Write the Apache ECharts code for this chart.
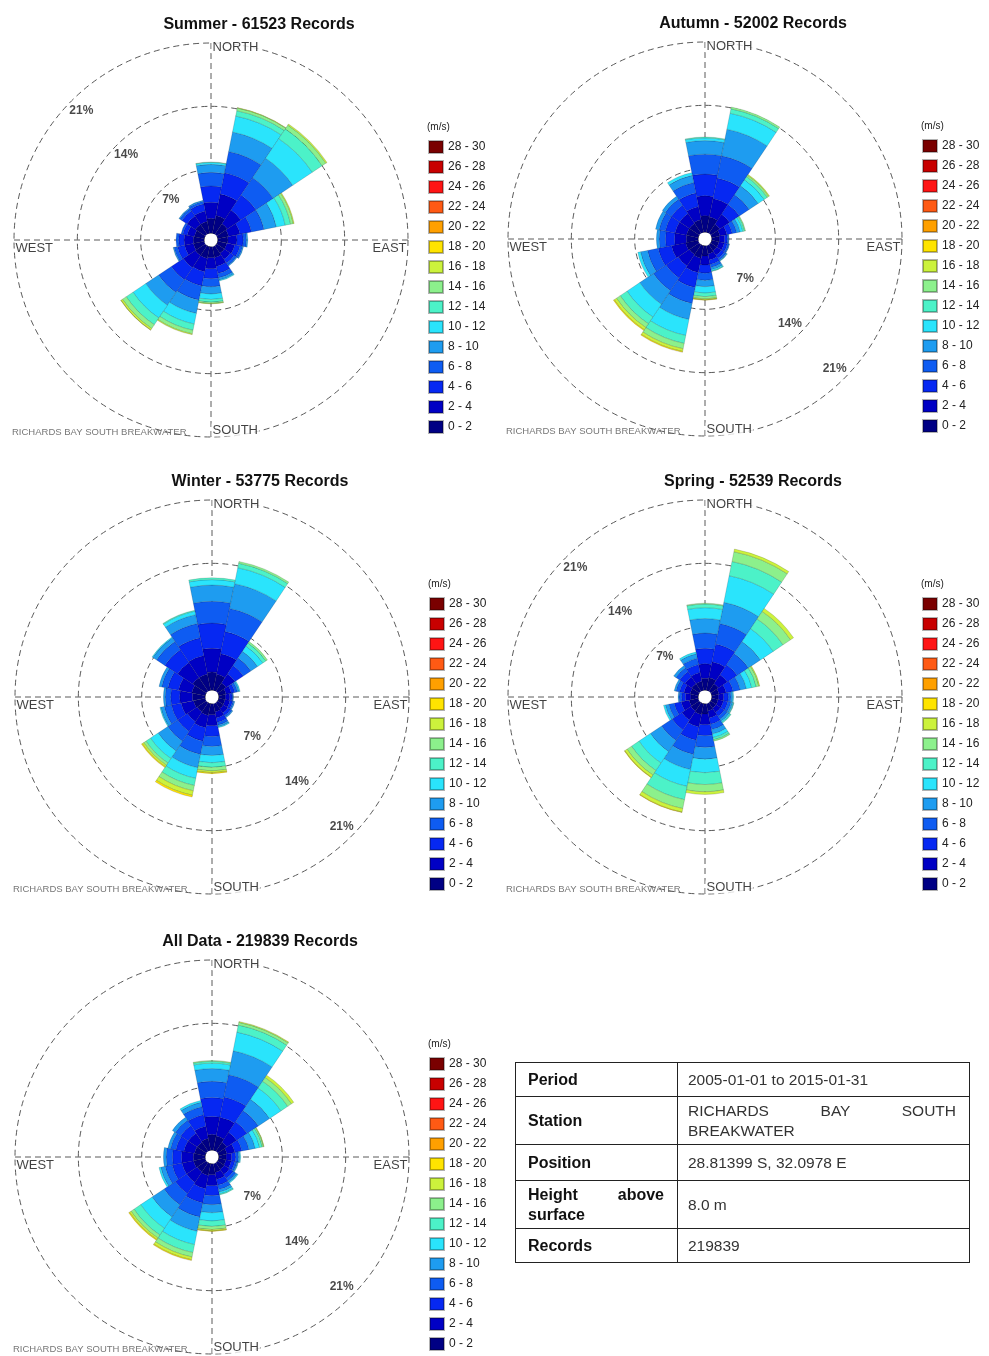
<!DOCTYPE html>
<html>
<head>
<meta charset="utf-8">
<title>Richards Bay South Breakwater - wind roses</title>
<script src="https://cdn.jsdelivr.net/npm/echarts@6/dist/echarts.min.js"></script>
<style>
  html, body { margin: 0; padding: 0; background: #fff; }
  #wrap { position: relative; width: 989px; height: 1356px; }
  #chart { position: absolute; left: 0; top: 0; width: 989px; height: 1356px; }
  #info { position: absolute; left: 515px; top: 1062px; width: 455px; border-collapse: collapse;
          font-family: "Liberation Sans", Arial, sans-serif; }
  #info td { border: 1.5px solid #222; padding: 0; vertical-align: middle; }
  #info td.k { width: 136px; padding: 0 13px 0 12px; font-weight: bold; font-size: 16px; color: #111;
               text-align: justify; line-height: 20px; }
  #info td.v { padding: 0 13px 0 10px; font-size: 15.5px; color: #333; text-align: justify; line-height: 20px; }
</style>
</head>
<body>
<div id="wrap">
  <div id="chart"></div>
  <table id="info">
    <tr style="height:34px"><td class="k">Period</td><td class="v">2005-01-01 to 2015-01-31</td></tr>
    <tr style="height:48px"><td class="k">Station</td><td class="v">RICHARDS BAY SOUTH BREAKWATER</td></tr>
    <tr style="height:36px"><td class="k">Position</td><td class="v">28.81399 S, 32.0978 E</td></tr>
    <tr style="height:48px"><td class="k">Height above surface</td><td class="v">8.0 m</td></tr>
    <tr style="height:34px"><td class="k">Records</td><td class="v">219839</td></tr>
  </table>
</div>
<script>
// 16 compass sectors, clockwise from north
var directions = ['N','NNE','NE','ENE','E','ESE','SE','SSE','S','SSW','SW','WSW','W','WNW','NW','NNW'];
// wind speed classes (m/s)
var speedBins = ['0 - 2','2 - 4','4 - 6','6 - 8','8 - 10','10 - 12','12 - 14','14 - 16',
                 '16 - 18','18 - 20','20 - 22','22 - 24','24 - 26','26 - 28','28 - 30'];
var binColors = ['#000084','#0000c4','#0628f2','#0e5cf2','#1e9cf0','#2ae4fc','#4cf2c8','#8cf08c',
                 '#ccf23c','#ffe400','#ffa000','#ff5a14','#ff1414','#c80000','#7a0000'];
var ringValues = [7, 14, 21];
var ringLabels = ['7%', '14%', '21%'];
var compassLabels = ['NORTH', 'EAST', 'SOUTH', 'WEST'];

// % frequency, one row per speed class (0-2 ... 18-20), one column per direction
var summer = [
  [1.6,2.0,1.4,1.2,1.1,1.0,1.0,1.2,1.2,1.3,1.3,1.2,1.2,1.1,1.3,1.3],
  [1.8,2.4,1.8,1.3,1.0,0.9,0.8,1.0,1.2,1.5,1.6,1.0,1.0,0.8,1.1,1.2],
  [1.8,2.4,2.0,1.3,0.7,0.6,0.5,0.8,1.1,1.6,1.6,0.8,0.6,0.5,0.7,0.8],
  [1.5,2.4,2.3,1.4,0.35,0.3,0.3,0.5,0.9,1.6,1.7,0.4,0.3,0.2,0.3,0.3],
  [0.9,2.2,2.6,1.4,0.15,0.1,0.1,0.25,0.8,1.5,1.7,0.1,0,0,0.1,0.1],
  [0.2,1.8,2.6,1.0,0,0,0,0.1,0.6,1.2,1.7,0,0,0,0,0],
  [0.05,0.6,1.3,0.6,0,0,0,0,0.3,0.7,0.9,0,0,0,0,0],
  [0,0.3,0.5,0.3,0,0,0,0,0.15,0.4,0.5,0,0,0,0,0],
  [0,0.05,0.15,0.1,0,0,0,0,0.05,0.1,0.2,0,0,0,0,0],
  [0,0,0,0,0,0,0,0,0,0,0.03,0,0,0,0,0]
];
var autumn = [
  [1.8,1.7,1.2,0.9,0.8,0.8,0.8,0.9,1.1,1.4,1.3,1.4,1.3,1.3,1.3,1.4],
  [2.2,2.1,1.3,0.8,0.6,0.6,0.6,0.7,1.0,1.6,1.5,1.6,1.3,1.3,1.3,1.5],
  [2.4,2.3,1.3,0.6,0.3,0.35,0.4,0.5,0.9,1.7,1.6,1.5,1.0,1.1,1.1,1.5],
  [2.2,2.5,1.3,0.5,0.15,0.2,0.25,0.35,0.8,1.8,1.7,1.2,0.7,0.7,0.8,1.2],
  [1.5,3.0,1.2,0.4,0.05,0.05,0.1,0.25,0.7,1.8,1.8,0.8,0.3,0.4,0.4,0.8],
  [0.3,1.8,0.8,0.3,0,0,0.05,0.15,0.7,1.8,1.7,0.3,0,0,0,0.3],
  [0.1,0.5,0.4,0.2,0,0,0,0.05,0.4,0.9,0.9,0,0,0,0,0],
  [0,0.2,0.2,0.1,0,0,0,0,0.25,0.6,0.5,0,0,0,0,0],
  [0,0,0.1,0,0,0,0,0,0.1,0.3,0.3,0,0,0,0,0],
  [0,0,0,0,0,0,0,0,0.05,0.1,0.1,0,0,0,0,0]
];
var winter = [
  [2.0,1.8,1.1,0.8,0.7,0.7,0.75,0.9,1.2,1.3,1.2,1.3,1.4,1.5,1.8,1.8],
  [2.6,2.3,1.2,0.6,0.5,0.55,0.6,0.7,1.2,1.4,1.3,1.4,1.4,1.5,2.0,2.1],
  [2.8,2.5,1.1,0.4,0.25,0.3,0.35,0.5,1.2,1.5,1.3,1.1,1.0,1.2,1.7,2.0],
  [2.4,2.6,1.0,0.3,0.1,0.15,0.2,0.3,1.1,1.5,1.3,0.8,0.6,0.7,1.1,1.6],
  [1.8,2.8,0.9,0.2,0.05,0.1,0.1,0.2,1.0,1.5,1.3,0.4,0.2,0.3,0.5,1.0],
  [0.6,1.8,0.7,0.1,0,0,0,0.1,0.8,1.2,1.0,0.1,0,0,0.1,0.4],
  [0.2,0.5,0.4,0,0,0,0,0,0.5,0.8,0.6,0,0,0,0,0.1],
  [0,0.2,0.2,0,0,0,0,0,0.4,0.6,0.3,0,0,0,0,0],
  [0,0,0,0,0,0,0,0,0.2,0.5,0.2,0,0,0,0,0],
  [0,0,0,0,0,0,0,0,0.1,0.2,0.1,0,0,0,0,0]
];
var spring = [
  [1.3,1.4,1.0,0.8,0.7,0.7,0.7,0.8,1.1,1.2,1.1,1.0,0.8,0.9,1.0,1.0],
  [1.6,1.8,1.2,0.8,0.6,0.6,0.6,0.8,1.2,1.4,1.2,0.9,0.6,0.7,0.9,1.0],
  [1.7,2.0,1.3,0.8,0.5,0.5,0.5,0.7,1.2,1.5,1.3,0.8,0.4,0.5,0.7,0.9],
  [1.7,2.3,1.5,0.8,0.3,0.35,0.4,0.6,1.3,1.6,1.4,0.6,0.3,0.4,0.5,0.7],
  [1.6,2.4,1.6,0.7,0.2,0.2,0.25,0.5,1.3,1.7,1.5,0.4,0.1,0.2,0.3,0.5],
  [1.2,3.0,1.7,0.6,0.1,0.1,0.15,0.4,1.5,1.9,1.5,0.2,0,0,0,0.2],
  [0.4,1.6,1.3,0.5,0,0.05,0.1,0.25,1.3,1.5,1.0,0,0,0,0,0],
  [0.1,1.1,1.0,0.3,0,0,0,0.15,0.8,1.0,0.6,0,0,0,0,0],
  [0,0.3,0.4,0.1,0,0,0,0,0.3,0.4,0.3,0,0,0,0,0],
  [0,0,0,0,0,0,0,0,0,0.05,0.05,0,0,0,0,0]
];
var allData = [
  [1.7,1.6,1.2,0.9,0.8,0.8,0.85,0.95,1.2,1.3,1.2,1.3,1.3,1.2,1.2,1.3],
  [2.0,2.1,1.3,0.9,0.6,0.6,0.7,0.8,1.2,1.5,1.4,1.3,1.3,1.2,1.2,1.4],
  [2.1,2.3,1.4,0.8,0.45,0.4,0.5,0.65,1.1,1.6,1.5,1.1,1.0,0.9,1.0,1.3],
  [1.8,2.5,1.5,0.8,0.3,0.25,0.35,0.5,1.0,1.6,1.5,0.8,0.7,0.6,0.7,0.9],
  [1.4,2.7,1.5,0.7,0.15,0.1,0.2,0.3,0.9,1.6,1.6,0.5,0.3,0.3,0.4,0.5],
  [0.6,2.1,1.5,0.5,0.1,0.05,0.1,0.2,0.9,1.5,1.5,0.2,0,0,0,0.2],
  [0.2,0.8,0.9,0.3,0,0,0,0.1,0.6,0.9,0.9,0,0,0,0,0],
  [0.1,0.3,0.5,0.15,0,0,0,0,0.35,0.5,0.4,0,0,0,0,0],
  [0,0.1,0.3,0.05,0,0,0,0,0.15,0.3,0.2,0,0,0,0,0],
  [0,0,0,0,0,0,0,0,0.05,0.1,0.1,0,0,0,0,0]
];

var panels = [
  { title: 'Summer - 61523 Records',    data: summer,  center: [211, 240],  pctAngle: 315 },
  { title: 'Autumn - 52002 Records',    data: autumn,  center: [705, 239],  pctAngle: 135 },
  { title: 'Winter - 53775 Records',    data: winter,  center: [212, 697],  pctAngle: 135 },
  { title: 'Spring - 52539 Records',    data: spring,  center: [705, 697],  pctAngle: 315 },
  { title: 'All Data - 219839 Records', data: allData, center: [212, 1157], pctAngle: 135 }
];

var FONT = '"Liberation Sans", Arial, sans-serif';
var dash = { color: '#5a5a5a', width: 1, type: [6, 4] };
var hide = { show: false };

var polar = [], angleAxis = [], radiusAxis = [], series = [], legend = [], graphic = [];

panels.forEach(function (p, k) {
  var cx = p.center[0], cy = p.center[1];
  var gi = k * 2, bi = k * 2 + 1;

  // grid polar: rings and the N-S / E-W lines
  polar.push({ center: [cx, cy], radius: [7, 197] });
  angleAxis.push({ polarIndex: gi, type: 'value', min: 0, max: 360, interval: 90, startAngle: 90, clockwise: true,
    axisLine: hide, axisTick: hide, axisLabel: hide, splitLine: { show: true, lineStyle: dash } });
  radiusAxis.push({ polarIndex: gi, type: 'value', min: 0, max: 21, interval: 7,
    axisLine: hide, axisTick: hide, axisLabel: hide, splitLine: { show: true, lineStyle: dash } });

  // bar polar: one sector per direction, N centred at the top
  polar.push({ center: [cx, cy], radius: [7, 197] });
  angleAxis.push({ polarIndex: bi, type: 'category', data: directions, startAngle: 90 + 360 / 32, clockwise: true,
    axisLine: hide, axisTick: hide, axisLabel: hide, splitLine: hide });
  radiusAxis.push({ polarIndex: bi, type: 'value', min: 0, max: 21,
    axisLine: hide, axisTick: hide, axisLabel: hide, splitLine: hide });

  speedBins.forEach(function (name, b) {
    var row = p.data[b] || [];
    series.push({
      type: 'bar', name: name, coordinateSystem: 'polar', polarIndex: bi, stack: 'rose' + k,
      barCategoryGap: '0%', silent: true,
      itemStyle: { color: binColors[b], borderColor: 'rgba(0,0,0,0.3)', borderWidth: 0.5 },
      data: directions.map(function (d, i) { return row[i] ? row[i] : '-'; })
    });
  });

  // compass labels
  series.push({
    type: 'scatter', coordinateSystem: 'polar', polarIndex: gi, symbolSize: 1, silent: true, z: 6,
    itemStyle: { color: 'rgba(0,0,0,0)' },
    label: { show: true, color: '#111', fontFamily: FONT, fontSize: 13, backgroundColor: '#fff', padding: [0, 1] },
    data: [
      { value: [21, 0],   label: { formatter: compassLabels[0], position: 'right', distance: 0, offset: [0, 4] } },
      { value: [21, 90],  label: { formatter: compassLabels[1], position: 'left',  distance: 0, offset: [0, 8], backgroundColor: 'transparent' } },
      { value: [21, 180], label: { formatter: compassLabels[2], position: 'right', distance: 0, offset: [0, -7] } },
      { value: [21, 270], label: { formatter: compassLabels[3], position: 'right', distance: 0, offset: [0, 8], backgroundColor: 'transparent' } }
    ]
  });

  // ring percentage labels
  series.push({
    type: 'scatter', coordinateSystem: 'polar', polarIndex: gi, symbolSize: 1, silent: true, z: 6,
    itemStyle: { color: 'rgba(0,0,0,0)' },
    label: { show: true, position: 'inside', color: '#1a1a1a', fontFamily: FONT, fontSize: 12, fontWeight: 'bold' },
    data: ringValues.map(function (v, i) {
      return { value: [v - 1.5, p.pctAngle], label: { formatter: ringLabels[i] } };
    })
  });

  legend.push({
    data: speedBins.slice().reverse(), orient: 'vertical', left: cx + 217, top: cy - 100, height: 320, padding: 0,
    itemWidth: 14, itemHeight: 12, itemGap: 6, icon: 'rect', selectedMode: false,
    textStyle: { fontFamily: FONT, fontSize: 12, color: '#222' }
  });

  graphic.push({ type: 'text', x: cx + 48, y: cy - 215, silent: true,
    style: { text: p.title, font: 'bold 16px ' + FONT, fill: '#111',
             align: 'center', verticalAlign: 'middle', textAlign: 'center', textVerticalAlign: 'middle' } });
  graphic.push({ type: 'text', x: cx + 216, y: cy - 113, silent: true,
    style: { text: '(m/s)', font: '10px ' + FONT, fill: '#222',
             align: 'left', verticalAlign: 'middle', textAlign: 'left', textVerticalAlign: 'middle' } });
  graphic.push({ type: 'text', x: cx - 199, y: cy + 192, silent: true,
    style: { text: 'RICHARDS BAY SOUTH BREAKWATER', font: '9.5px ' + FONT, fill: '#777',
             align: 'left', verticalAlign: 'middle', textAlign: 'left', textVerticalAlign: 'middle' } });
});

var myChart = echarts.init(document.getElementById('chart'));
myChart.setOption({
  animation: false,
  backgroundColor: '#fff',
  polar: polar,
  angleAxis: angleAxis,
  radiusAxis: radiusAxis,
  legend: legend,
  graphic: graphic,
  series: series
});
</script>
</body>
</html>
